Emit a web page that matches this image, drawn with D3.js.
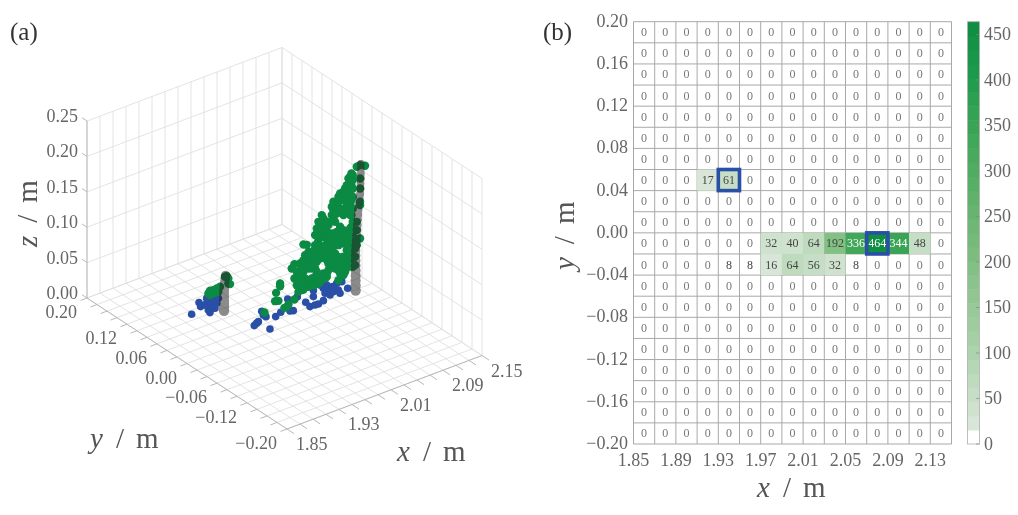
<!DOCTYPE html>
<html lang="en">
<head>
  <meta charset='utf-8'>
  <title>Point cloud and occupancy grid</title>
  <style>
    html, body { margin: 0; padding: 0; background: #fff; }
    text { font-family: "Liberation Serif", serif; filter: grayscale(1); }
  </style>
</head>
<body>
  <div id="chart"></div>
  <script src="https://cdnjs.cloudflare.com/ajax/libs/d3/7.8.5/d3.min.js"></script>
  <script>

  ////////////////////////////////////////////////// DATA

  var xTicks3d = [1.85, 1.93, 2.01, 2.09, 2.15];
  var yTicks3d = [0.20, 0.12, 0.06, 0.00, -0.06, -0.12, -0.20];
  var zTicks3d = [0.00, 0.05, 0.10, 0.15, 0.20, 0.25];

  // grey pillars, [x, y, z]
  var pillarLeft = [
    [1.9616, 0.071, 0.003], [1.9616, 0.071, 0.008], [1.9616, 0.071, 0.013], [1.9616, 0.071, 0.018],
    [1.9616, 0.071, 0.023], [1.9616, 0.071, 0.028], [1.9618, 0.071, 0.033], [1.9622, 0.071, 0.038],
    [1.9628, 0.071, 0.043], [1.9635, 0.071, 0.048], [1.9640, 0.071, 0.052]
  ];
  var pillarRight = [
    [2.1210, 0.015, 0.0023], [2.1210, 0.015, 0.0093], [2.1210, 0.015, 0.0164], [2.1210, 0.015, 0.0235],
    [2.1210, 0.015, 0.0305], [2.1210, 0.015, 0.0376], [2.1210, 0.015, 0.0447], [2.1210, 0.015, 0.0517],
    [2.1210, 0.015, 0.0588], [2.1216, 0.015, 0.0659], [2.1220, 0.015, 0.0729], [2.1225, 0.015, 0.0800],
    [2.1230, 0.015, 0.0871], [2.1235, 0.015, 0.0941], [2.1240, 0.015, 0.1012], [2.1245, 0.015, 0.1083],
    [2.1250, 0.015, 0.1153], [2.1260, 0.015, 0.1224], [2.1270, 0.015, 0.1295], [2.1280, 0.015, 0.1365],
    [2.1285, 0.015, 0.1436], [2.1285, 0.015, 0.1506], [2.1290, 0.015, 0.1577], [2.1290, 0.015, 0.1648],
    [2.1290, 0.015, 0.1718], [2.1290, 0.015, 0.1789]
  ];

  // blue points lie on the floor, [x, y]
  var bluePoints = [
    [2.119, 0.0284], [2.097, 0.0551], [2.0952, 0.0461], [2.0895, 0.0352], [2.0977, 0.0393], [2.0919, 0.0284],
    [2.1001, 0.0323], [2.1158, 0.0461], [2.1232, 0.0456], [2.1075, 0.0320], [2.1041, 0.0243], [2.1035, 0.0502],
    [2.1069, 0.0425], [2.0821, 0.0489], [2.0731, 0.0373], [2.0572, 0.0319], [2.0549, 0.0204], [2.0623, 0.0199],
    [2.0671, 0.0194], [2.0769, 0.0222], [2.0445, 0.0515], [2.0574, 0.0490], [2.0326, 0.0248], [2.0289, 0.0266],
    [2.0179, 0.0308], [2.0065, 0.0261], [2.0008, 0.0466], [1.9970, 0.0331], [1.9821, 0.0290], [1.9722, 0.0243],
    [1.9780, 0.0271], [1.9825, 0.0063], [1.9969, 0.0383],
    [1.9279, 0.0920], [1.9525, 0.1092], [1.9481, 0.1003], [1.9664, 0.1120], [1.9721, 0.1129], [1.9754, 0.1104],
    [1.9787, 0.1080], [1.9590, 0.1023], [1.9597, 0.0967], [1.9630, 0.0942], [1.9688, 0.0950], [1.9506, 0.0882],
    [1.9483, 0.0819], [1.9564, 0.0889], [1.9596, 0.0865], [1.9549, 0.1003], [1.9647, 0.1032], [1.9720, 0.1027],
    [1.9778, 0.1035]
  ];

  // green points near the left pillar, [x, z]
  var greenLeftY = 0.071;
  var greenLeft = [
    [1.9375, 0.0359], [1.9400, 0.0387], [1.9452, 0.0379], [1.9503, 0.0384], [1.9554, 0.0390], [1.9400, 0.0326],
    [1.9477, 0.0332], [1.9528, 0.0328], [1.9657, 0.0506], [1.9682, 0.0464], [1.9682, 0.0393], [1.9708, 0.0375],
    [1.9631, 0.0505]
  ];

  // green points near the right pillar, [x, [z, z, ...]]
  var greenRightY = 0.015;
  var greenRight = [
    [1.9807, [0.0198]],
    [1.9971, [0.0302]],
    [1.9986, [0.0414]],
    [2.0022, [0.0289]],
    [2.0048, [0.0525, 0.0487]],
    [2.0114, [0.0158]],
    [2.0150, [0.0159]],
    [2.0176, [0.0184]],
    [2.0227, [0.0675]],
    [2.0268, [0.0722, 0.0520, 0.0223]],
    [2.0304, [0.0601, 0.0530, 0.0412]],
    [2.0330, [0.0451, 0.0309]],
    [2.0355, [0.0701, 0.0606, 0.0489, 0.0394]],
    [2.0381, [0.0316]],
    [2.0407, [0.0952, 0.0731, 0.0566, 0.0316]],
    [2.0432, [0.0792, 0.0627, 0.0463, 0.0345]],
    [2.0458, [0.0929, 0.0736, 0.0642, 0.0383]],
    [2.0484, [0.0821, 0.0704, 0.0586, 0.0327]],
    [2.0509, [0.0765, 0.0671, 0.0412, 0.0341]],
    [2.0535, [0.0780, 0.0686, 0.0568, 0.0427, 0.0356]],
    [2.0571, [0.0815, 0.0721, 0.0603, 0.0368, 0.0320]],
    [2.0586, [0.1022, 0.0881, 0.0716, 0.0551, 0.0433]],
    [2.0612, [0.1107, 0.1036, 0.0754, 0.0636, 0.0495, 0.0401]],
    [2.0637, [0.1192, 0.1051, 0.0933, 0.0863, 0.0745, 0.0321]],
    [2.0663, [0.1136, 0.1066, 0.0995, 0.0807, 0.0665, 0.0430, 0.0336]],
    [2.0689, [0.1269, 0.1174]],
    [2.0714, [0.1212, 0.1095, 0.0953, 0.0765, 0.0671, 0.0435]],
    [2.0740, [0.1109, 0.0991, 0.0827, 0.0709, 0.0356]],
    [2.0766, [0.1148, 0.1007, 0.0913, 0.0724, 0.0607, 0.0418, 0.0371]],
    [2.0791, [0.1092, 0.0927, 0.0786, 0.0551, 0.0456]],
    [2.0817, [0.0965, 0.0848, 0.0754, 0.0612]],
    [2.0843, [0.1333, 0.1216, 0.0886, 0.0674, 0.0533]],
    [2.0868, [0.1395, 0.1277, 0.1159, 0.0947, 0.0759, 0.0618, 0.0500]],
    [2.0894, [0.1292, 0.1103, 0.0868, 0.0656, 0.0444]],
    [2.0920, [0.1330, 0.1212, 0.0953, 0.0835, 0.0529, 0.0458]],
    [2.0945, [0.1439, 0.1368, 0.0756, 0.0591, 0.0402, 0.0261]],
    [2.0971, [0.1478, 0.1266, 0.1007, 0.0865, 0.0489, 0.0347]],
    [2.0996, [0.1398, 0.0903, 0.0527, 0.0385]],
    [2.1022, [0.1483, 0.1365, 0.1154, 0.0942, 0.0753, 0.0565, 0.0447, 0.0306]],
    [2.1048, [0.1521, 0.1215, 0.0862, 0.0344]],
    [2.1074, [0.1559, 0.1418, 0.1277, 0.0806, 0.0641, 0.0523, 0.0405]],
    [2.1099, [0.1645, 0.1480, 0.1339, 0.1197, 0.0868, 0.0703, 0.0538, 0.0397]],
    [2.1125, [0.1659, 0.1589, 0.1424, 0.1282, 0.1118, 0.0929, 0.0811, 0.0623, 0.0458]],
    [2.1145, [0.1699, 0.1534, 0.1322, 0.1111, 0.0946, 0.0757, 0.0569, 0.0404]],
    [2.1166, [0.1669, 0.1598, 0.1480, 0.1363, 0.1198, 0.1009, 0.0868, 0.0703, 0.0515, 0.0373]],
    [2.1202, [0.0762, 0.0621, 0.0503, 0.0385]],
    [2.1227, [0.1765, 0.0988, 0.0871, 0.0659]],
    [2.1278, [0.1771, 0.1583, 0.1441, 0.1253, 0.1206, 0.0735]],
    [2.1355, [0.1735]]
  ];

  var heatXTicks = [1.85, 1.89, 1.93, 1.97, 2.01, 2.05, 2.09, 2.13];
  var heatYTicks = [0.20, 0.16, 0.12, 0.08, 0.04, 0.00, -0.04, -0.08, -0.12, -0.16, -0.20];
  var barTicks = [0, 50, 100, 150, 200, 250, 300, 350, 400, 450];

  // non-zero cells of the grid: [column, row, count]
  var heatCells = [
    [3, 7, 17], [4, 7, 61],
    [6, 10, 32], [7, 10, 40], [8, 10, 64], [9, 10, 192], [10, 10, 336], [11, 10, 464], [12, 10, 344], [13, 10, 48],
    [4, 11, 8], [5, 11, 8], [6, 11, 16], [7, 11, 64], [8, 11, 56], [9, 11, 32], [10, 11, 8]
  ];
  var highlighted = [[4, 7], [11, 10]];

  var colorStops = [0, 100, 200, 300, 400, 464];
  var colorValues = ["#dfeadf", "#a9d1a8", "#7dbd7e", "#4dab5e", "#1e9a4b", "#0a8a42"];

  ////////////////////////////////////////////////// SETUP

  var svg = d3.select("#chart").append("svg")
    .attr("width", 1018)
    .attr("height", 515);

  var GRID = "#e0e0e0", EDGE = "#b9b9b9", TICK_TEXT = "#666", TITLE_TEXT = "#555";

  function fmt(v) {
    return v.toFixed(2).replace("-", "\u2212");
  }

  function axisTitle(g, letter, size) {
    g.attr("font-size", size).attr("fill", TITLE_TEXT);
    g.append("tspan").attr("font-style", "italic").text(letter);
    g.append("tspan").attr("dx", 13).text("/");
    g.append("tspan").attr("dx", 12).text("m");
  }

  // panel labels
  svg.append("text").attr("x", 10).attr("y", 40).attr("font-size", 25).attr("fill", "#333").text("(a)");
  svg.append("text").attr("x", 543).attr("y", 40).attr("font-size", 25).attr("fill", "#333").text("(b)");

  ////////////////////////////////////////////////// PANEL A

  // oblique projection, each axis gets a scale for screen x and screen y
  var originX = 87, originY = 298;
  var xToPx = d3.scaleLinear().domain([1.85, 2.15]).range([0, 195]);
  var xToPy = d3.scaleLinear().domain([1.85, 2.15]).range([0, -73.5]);
  var yToPx = d3.scaleLinear().domain([0.20, -0.20]).range([0, 200]);
  var yToPy = d3.scaleLinear().domain([0.20, -0.20]).range([0, 131]);
  var zToPy = d3.scaleLinear().domain([0, 0.25]).range([0, -177]);

  function project(x, y, z) {
    return [originX + xToPx(x) + yToPx(y), originY + xToPy(x) + yToPy(y) + zToPy(z)];
  }

  var panelA = svg.append("g");
  var line3d = d3.line();

  function seg(a, b, color, width) {
    panelA.append("path")
      .attr("d", line3d([project(a[0], a[1], a[2]), project(b[0], b[1], b[2])]))
      .attr("fill", "none")
      .attr("stroke", color)
      .attr("stroke-width", width);
  }

  var xGrid = d3.range(16).map(function(i) { return 1.85 + i * 0.02; });
  var yGrid = d3.range(21).map(function(i) { return 0.20 - i * 0.02; });

  // walls and floor
  xGrid.forEach(function(x) {
    seg([x, 0.20, 0], [x, 0.20, 0.25], GRID, 0.9);
    seg([x, 0.20, 0], [x, -0.20, 0], GRID, 0.9);
  });
  yGrid.forEach(function(y) {
    seg([2.15, y, 0], [2.15, y, 0.25], GRID, 0.9);
    seg([1.85, y, 0], [2.15, y, 0], GRID, 0.9);
  });
  zTicks3d.forEach(function(z) {
    seg([1.85, 0.20, z], [2.15, 0.20, z], GRID, 0.9);
    seg([2.15, 0.20, z], [2.15, -0.20, z], GRID, 0.9);
  });

  // axis edges and ticks
  seg([1.85, 0.20, 0], [1.85, 0.20, 0.25], EDGE, 1);
  seg([1.85, 0.20, 0], [1.85, -0.20, 0], EDGE, 1);
  seg([1.85, -0.20, 0], [2.15, -0.20, 0], EDGE, 1);
  zTicks3d.forEach(function(z) { seg([1.85, 0.20, z], [1.85, 0.21, z], EDGE, 1); });
  yGrid.forEach(function(y) { seg([1.85, y, 0], [1.84, y, 0], EDGE, 1); });
  xGrid.forEach(function(x) { seg([x, -0.20, 0], [x, -0.214, 0], EDGE, 1); });

  // tick labels
  zTicks3d.forEach(function(z) {
    var p = project(1.85, 0.20, z);
    panelA.append("text").attr("x", p[0] - 9).attr("y", p[1] + 1)
      .attr("text-anchor", "end").attr("font-size", 18).attr("fill", TICK_TEXT).text(fmt(z));
  });
  yTicks3d.forEach(function(y) {
    var p = project(1.85, y, 0);
    panelA.append("text").attr("x", p[0] - 10).attr("y", p[1] + 20)
      .attr("text-anchor", "end").attr("font-size", 18).attr("fill", TICK_TEXT).text(fmt(y));
  });
  xTicks3d.forEach(function(x) {
    var p = project(x, -0.20, 0);
    panelA.append("text").attr("x", p[0] + 9).attr("y", p[1] + 21)
      .attr("font-size", 18).attr("fill", TICK_TEXT).text(x.toFixed(2));
  });

  // points, the grey pillars go on top so the green shows through darker
  var BLUE = "#2a4fa6", GREEN = "#0b8a43";

  panelA.append("g").selectAll("circle")
    .data(bluePoints)
    .enter().append("circle")
    .attr("cx", function(d) { return project(d[0], d[1], 0)[0]; })
    .attr("cy", function(d) { return project(d[0], d[1], 0)[1]; })
    .attr("r", 3.8)
    .attr("fill", BLUE);

  var greenAll = greenLeft.map(function(d) { return [d[0], greenLeftY, d[1]]; });
  greenRight.forEach(function(col) {
    col[1].forEach(function(z) { greenAll.push([col[0], greenRightY, z]); });
  });

  panelA.append("g").selectAll("circle")
    .data(greenAll)
    .enter().append("circle")
    .attr("cx", function(d) { return project(d[0], d[1], d[2])[0]; })
    .attr("cy", function(d) { return project(d[0], d[1], d[2])[1]; })
    .attr("r", 4.2)
    .attr("fill", GREEN);

  var pillarR = d3.scaleLinear().domain([0, 0.18]).range([5.2, 3.6]);
  var pillarLine = d3.line()
    .x(function(d) { return project(d[0], d[1], d[2])[0]; })
    .y(function(d) { return project(d[0], d[1], d[2])[1]; });

  [pillarLeft, pillarRight].forEach(function(pillar) {
    var g = panelA.append("g").attr("opacity", 0.53);
    g.append("path")
      .attr("d", pillarLine(pillar))
      .attr("fill", "none")
      .attr("stroke", "#262626")
      .attr("stroke-width", 7)
      .attr("stroke-linecap", "round");
    g.selectAll("circle")
      .data(pillar)
      .enter().append("circle")
      .attr("cx", function(d) { return project(d[0], d[1], d[2])[0]; })
      .attr("cy", function(d) { return project(d[0], d[1], d[2])[1]; })
      .attr("r", function(d) { return pillarR(d[2]); })
      .attr("fill", "#262626");
  });

  // axis titles
  axisTitle(panelA.append("text").attr("x", 90).attr("y", 448), "y", 29);
  axisTitle(panelA.append("text").attr("x", 397).attr("y", 461), "x", 29);
  axisTitle(panelA.append("text").attr("transform", "translate(37,247) rotate(-90)"), "z", 29);

  ////////////////////////////////////////////////// PANEL B

  var nCols = 15, nRows = 20;
  var heatX = d3.scaleLinear().domain([1.85, 2.15]).range([633.5, 951.5]);
  var heatY = d3.scaleLinear().domain([0.20, -0.20]).range([21.7, 444]);
  var colX = d3.scaleLinear().domain([0, nCols]).range(heatX.range());
  var rowY = d3.scaleLinear().domain([0, nRows]).range(heatY.range());

  var binColor = d3.scaleLinear().domain(colorStops).range(colorValues);
  var bands = d3.range(30);
  var bandSize = 464 / bands.length;

  function countColor(v) {
    var b = Math.floor(v / bandSize);
    if (b <= 0) return "#fff";
    return binColor(Math.min(b, bands.length - 1) * bandSize);
  }

  var panelB = svg.append("g");

  var cellCount = {};
  heatCells.forEach(function(d) { cellCount[d[0] + "_" + d[1]] = d[2]; });

  // grid lines go under the filled cells
  d3.range(nCols + 1).forEach(function(i) {
    panelB.append("line").attr("x1", colX(i)).attr("x2", colX(i))
      .attr("y1", rowY(0)).attr("y2", rowY(nRows))
      .attr("stroke", "#a8a8a8").attr("stroke-width", 1);
  });
  d3.range(nRows + 1).forEach(function(i) {
    panelB.append("line").attr("x1", colX(0)).attr("x2", colX(nCols))
      .attr("y1", rowY(i)).attr("y2", rowY(i))
      .attr("stroke", "#a8a8a8").attr("stroke-width", 1);
  });

  panelB.append("g").selectAll("rect")
    .data(heatCells.filter(function(d) { return countColor(d[2]) !== "#fff"; }))
    .enter().append("rect")
    .attr("x", function(d) { return colX(d[0]); })
    .attr("y", function(d) { return rowY(d[1]); })
    .attr("width", colX(1) - colX(0))
    .attr("height", rowY(1) - rowY(0))
    .attr("fill", function(d) { return countColor(d[2]); });

  d3.range(nRows).forEach(function(r) {
    d3.range(nCols).forEach(function(c) {
      var v = cellCount[c + "_" + r] || 0;
      panelB.append("text")
        .attr("x", colX(c + 0.5))
        .attr("y", rowY(r + 0.5) + 4)
        .attr("text-anchor", "middle")
        .attr("font-size", 12)
        .attr("fill", v >= 300 ? "#fff" : (v === 0 ? "#777" : "#444"))
        .text(v);
    });
  });

  panelB.append("g").selectAll("rect")
    .data(highlighted)
    .enter().append("rect")
    .attr("x", function(d) { return colX(d[0]); })
    .attr("y", function(d) { return rowY(d[1]); })
    .attr("width", colX(1) - colX(0))
    .attr("height", rowY(1) - rowY(0))
    .attr("fill", "none")
    .attr("stroke", "#2a4fa6")
    .attr("stroke-width", 3.6);

  heatXTicks.forEach(function(x) {
    panelB.append("text").attr("x", heatX(x)).attr("y", 466)
      .attr("text-anchor", "middle").attr("font-size", 18).attr("fill", TICK_TEXT).text(x.toFixed(2));
  });
  heatYTicks.forEach(function(y) {
    panelB.append("text").attr("x", 628).attr("y", heatY(y) + 5)
      .attr("text-anchor", "end").attr("font-size", 18).attr("fill", TICK_TEXT).text(fmt(y));
  });

  axisTitle(panelB.append("text").attr("x", 757).attr("y", 497), "x", 29);
  axisTitle(panelB.append("text").attr("transform", "translate(574,270) rotate(-90)"), "y", 29);

  // colour bar
  var barY = d3.scaleLinear().domain([0, 464]).range([444, 21.7]);

  panelB.append("g").selectAll("rect")
    .data(bands)
    .enter().append("rect")
    .attr("x", 967.5)
    .attr("width", 12)
    .attr("y", function(b) { return barY((b + 1) * bandSize); })
    .attr("height", function(b) { return barY(b * bandSize) - barY((b + 1) * bandSize) + 0.5; })
    .attr("fill", function(b) { return countColor(b * bandSize); });

  panelB.append("rect").attr("x", 967.5).attr("y", barY(464)).attr("width", 12)
    .attr("height", barY(0) - barY(464))
    .attr("fill", "none").attr("stroke", "#b0b0b0").attr("stroke-width", 0.8);

  barTicks.forEach(function(t) {
    panelB.append("line").attr("x1", 976).attr("x2", 979.5)
      .attr("y1", barY(t)).attr("y2", barY(t))
      .attr("stroke", "#888").attr("stroke-width", 0.7);
    panelB.append("text").attr("x", 984).attr("y", barY(t) + 6)
      .attr("font-size", 18).attr("fill", TICK_TEXT).text(t);
  });

  </script>
</body>
</html>
